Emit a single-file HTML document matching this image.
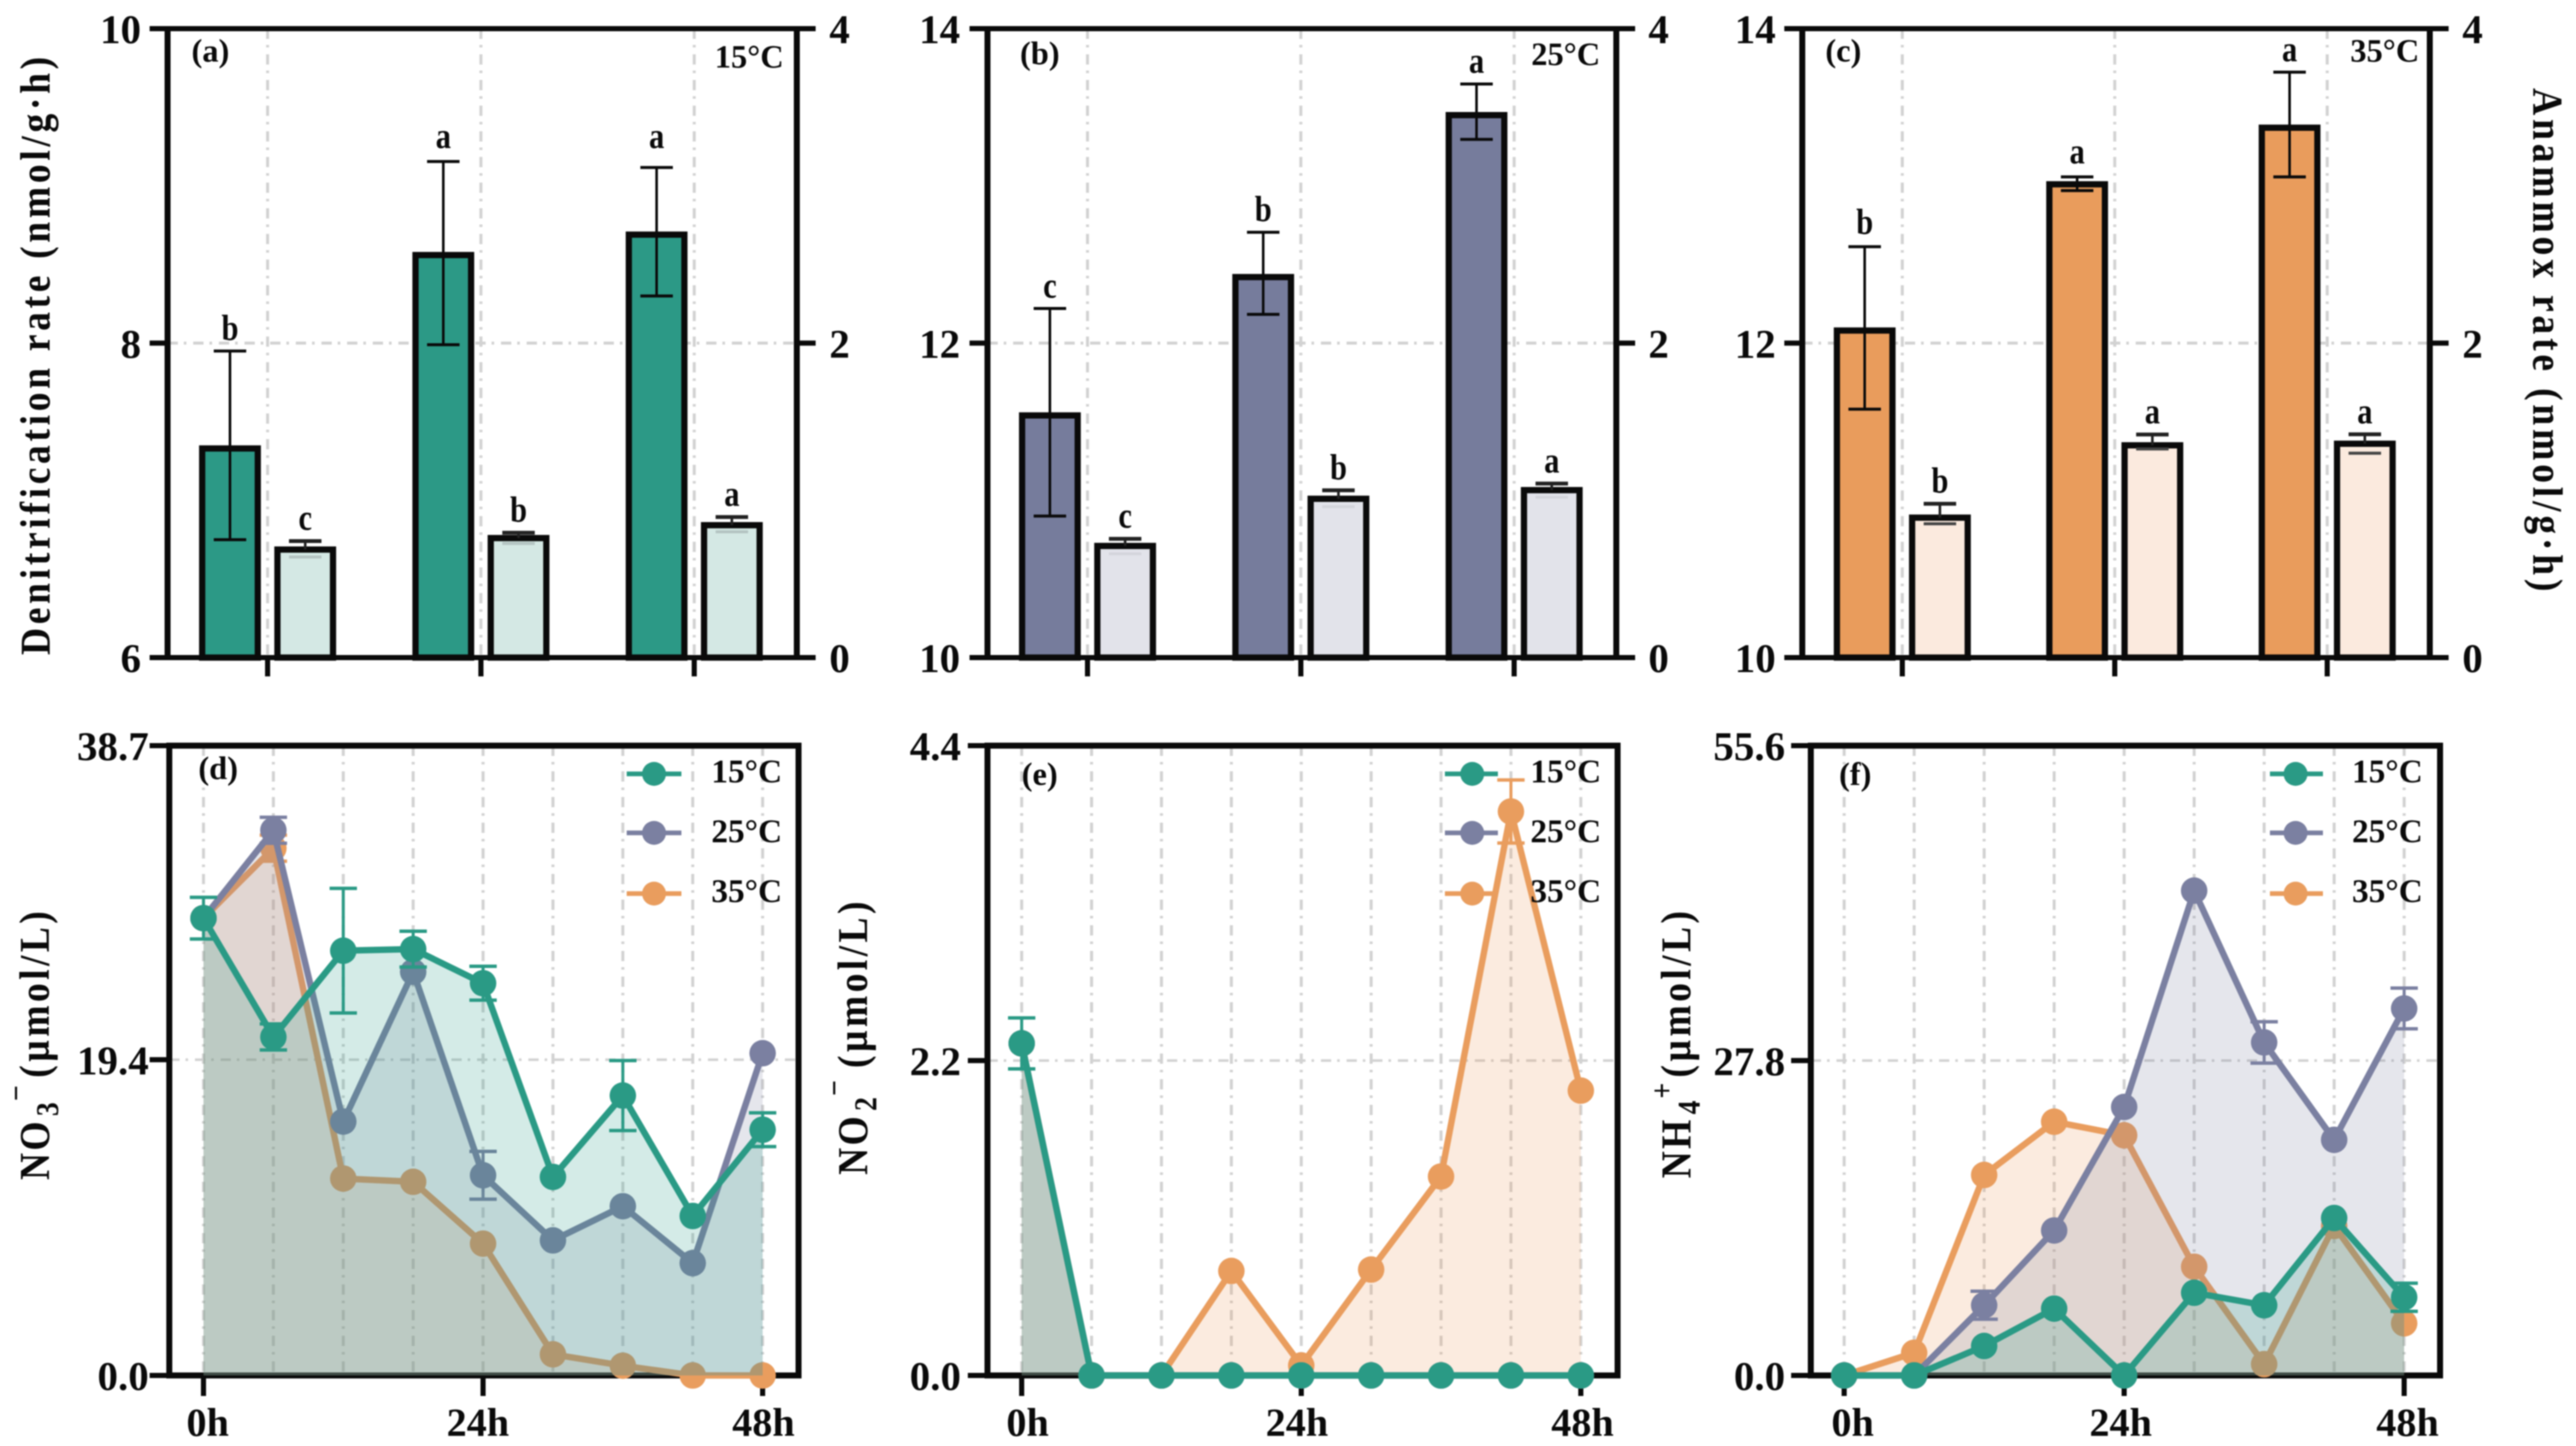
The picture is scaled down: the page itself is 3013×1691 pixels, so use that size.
<!DOCTYPE html>
<html lang="en">
<head>
<meta charset="utf-8">
<title>Denitrification and anammox rates with nitrogen species over time</title>
<style>
html,body{margin:0;padding:0;background:#fff;}
svg{display:block;filter:blur(0.7px);}
text{font-family:"Liberation Serif",serif;font-weight:bold;fill:#0a0a0a;}
</style>
</head>
<body>
<svg id="figure" xmlns="http://www.w3.org/2000/svg" width="3013" height="1691" viewBox="0 0 3013 1691">
<rect x="0" y="0" width="3013" height="1691" fill="#fff"/>
<g id="plots"></g>

<text x="0" y="0" transform="translate(58,766) rotate(-90) scale(.88,1)" font-size="50" textLength="795">Denitrification rate (nmol/g·h)</text>
<text x="0" y="0" transform="translate(2963,103) rotate(90) scale(.88,1)" font-size="50" textLength="669">Anammox rate (nmol/g·h)</text>

<text transform="translate(57,1380) rotate(-90) scale(.88,1)" font-size="50"><tspan x="0" y="0" letter-spacing="3">NO</tspan><tspan x="85" y="11" font-size="37">3</tspan><tspan x="105" y="-26" font-size="37">−</tspan><tspan x="136" y="0" letter-spacing="4.5">(µmol/L)</tspan></text>
<text transform="translate(1014,1374) rotate(-90) scale(.88,1)" font-size="50"><tspan x="0" y="0" letter-spacing="3">NO</tspan><tspan x="85" y="11" font-size="37">2</tspan><tspan x="105" y="-26" font-size="37">−</tspan><tspan x="142" y="0" letter-spacing="4.5">(µmol/L)</tspan></text>
<text transform="translate(1977,1378) rotate(-90) scale(.88,1)" font-size="50"><tspan x="0" y="0" letter-spacing="3">NH</tspan><tspan x="85" y="11" font-size="37">4</tspan><tspan x="106" y="-21" font-size="37">+</tspan><tspan x="134" y="0" letter-spacing="4.5">(µmol/L)</tspan></text>

<text x="224" y="72" font-size="38">(a)</text>
<text x="1193" y="75" font-size="38">(b)</text>
<text x="2135" y="72" font-size="38">(c)</text>
<text x="232" y="911" font-size="38">(d)</text>
<text x="1195" y="918" font-size="38">(e)</text>
<text x="2151" y="918" font-size="38">(f)</text>

<text x="836" y="79" font-size="38">15°C</text>
<text x="1791" y="76" font-size="38">25°C</text>
<text x="2749" y="72" font-size="38">35°C</text>

<g>
  <g><line x1="733" x2="797" y1="905" y2="905" stroke="#2a9a85" stroke-width="5.5"/><circle cx="765" cy="905" r="14" fill="#2a9a85"/><text x="832" y="915" font-size="39">15°C</text></g>
  <g><line x1="733" x2="797" y1="974" y2="974" stroke="#7b80a1" stroke-width="5.5"/><circle cx="765" cy="974" r="14" fill="#7b80a1"/><text x="832" y="985" font-size="39">25°C</text></g>
  <g><line x1="733" x2="797" y1="1045" y2="1045" stroke="#e99d5e" stroke-width="5.5"/><circle cx="765" cy="1045" r="14" fill="#e99d5e"/><text x="832" y="1055" font-size="39">35°C</text></g>
</g>
<g>
  <g><line x1="1690" x2="1752" y1="905" y2="905" stroke="#2a9a85" stroke-width="5.5"/><circle cx="1722" cy="905" r="14" fill="#2a9a85"/><text x="1790" y="915" font-size="39">15°C</text></g>
  <g><line x1="1690" x2="1752" y1="974" y2="974" stroke="#7b80a1" stroke-width="5.5"/><circle cx="1722" cy="974" r="14" fill="#7b80a1"/><text x="1790" y="985" font-size="39">25°C</text></g>
  <g><line x1="1690" x2="1752" y1="1045" y2="1045" stroke="#e99d5e" stroke-width="5.5"/><circle cx="1722" cy="1045" r="14" fill="#e99d5e"/><text x="1790" y="1055" font-size="39">35°C</text></g>
</g>
<g>
  <g><line x1="2655" x2="2717" y1="905" y2="905" stroke="#2a9a85" stroke-width="5.5"/><circle cx="2685" cy="905" r="14" fill="#2a9a85"/><text x="2751" y="915" font-size="39">15°C</text></g>
  <g><line x1="2655" x2="2717" y1="974" y2="974" stroke="#7b80a1" stroke-width="5.5"/><circle cx="2685" cy="974" r="14" fill="#7b80a1"/><text x="2751" y="985" font-size="39">25°C</text></g>
  <g><line x1="2655" x2="2717" y1="1045" y2="1045" stroke="#e99d5e" stroke-width="5.5"/><circle cx="2685" cy="1045" r="14" fill="#e99d5e"/><text x="2751" y="1055" font-size="39">35°C</text></g>
</g>
</svg>

<script>
// ---------- bar chart data ----------
const denitrificationTicksA = [6, 8, 10];
const denitrificationTicksBC = [10, 12, 14];
const anammoxTicks = [0, 2, 4];

const denitrification15 = [7.33, 8.56, 8.69];
const denitrification15High = [7.95, 9.155, 9.117];
const denitrification15Low = [6.75, 7.99, 8.30];
const denitrification15Letters = ['b', 'a', 'a'];
const anammox15 = [0.687, 0.76, 0.842];
const anammox15High = [0.741, 0.794, 0.894];
const anammox15Low = [0.64, 0.726, 0.80];
const anammox15Letters = ['c', 'b', 'a'];

const denitrification25 = [11.54, 12.42, 13.45];
const denitrification25High = [12.22, 12.705, 13.648];
const denitrification25Low = [10.90, 12.183, 13.296];
const denitrification25Letters = ['c', 'b', 'a'];
const anammox25 = [0.71, 1.01, 1.065];
const anammox25High = [0.755, 1.064, 1.107];
const anammox25Low = [0.66, 0.96, 1.02];
const anammox25Letters = ['c', 'b', 'a'];

const denitrification35 = [12.08, 13.01, 13.37];
const denitrification35High = [12.613, 13.057, 13.723];
const denitrification35Low = [11.58, 12.97, 13.057];
const denitrification35Letters = ['b', 'a', 'a'];
const anammox35 = [0.89, 1.35, 1.36];
const anammox35High = [0.978, 1.419, 1.42];
const anammox35Low = [0.851, 1.327, 1.30];
const anammox35Letters = ['b', 'a', 'a'];

// ---------- time series data ----------
const hours = [0, 6, 12, 18, 24, 30, 36, 42, 48];
const hourTickLabels = [0, 24, 48];

const nitrateTicks = [0, 19.4, 38.7];
const nitrate15 = [28.1, 20.8, 26.1, 26.2, 24.1, 12.2, 17.2, 9.8, 15.1];
const nitrate15Err = [1.28, 0.8, 3.83, 1.1, 1.04, 0, 2.15, 0, 1.04];
const nitrate25 = [28.1, 33.5, 15.6, 24.8, 12.3, 8.3, 10.4, 6.9, 19.8];
const nitrate25Err = [0, 0.8, 0, 0, 1.47, 0, 0, 0, 0];
const nitrate35 = [28.1, 32.4, 12.1, 11.9, 8.1, 1.3, 0.6, 0, 0];
const nitrate35Err = [0, 0.8, 0, 0, 0, 0, 0, 0, 0];

const nitriteTicks = [0, 2.2, 4.4];
const nitrite15 = [2.32, 0, 0, 0, 0, 0, 0, 0, 0];
const nitrite15Err = [0.178, 0, 0, 0, 0, 0, 0, 0, 0];
const nitrite25 = [2.32, 0, 0, 0, 0, 0, 0, 0, 0];
const nitrite25Err = [0, 0, 0, 0, 0, 0, 0, 0, 0];
const nitrite35 = [2.32, 0, 0, 0.73, 0.07, 0.74, 1.39, 3.94, 1.99];
const nitrite35Err = [0, 0, 0, 0, 0, 0, 0, 0.22, 0];

const ammoniumTicks = [0, 27.8, 55.6];
const ammonium15 = [0, 0, 2.6, 5.9, 0, 7.3, 6.2, 13.9, 6.9];
const ammonium15Err = [0, 0, 0, 0, 0, 0, 0, 0, 1.24];
const ammonium25 = [0, 0, 6.2, 12.8, 23.7, 42.8, 29.4, 20.8, 32.4];
const ammonium25Err = [0, 0, 1.24, 0, 0, 0, 1.83, 0, 1.8];
const ammonium35 = [0, 2.0, 17.7, 22.4, 21.2, 9.6, 1.0, 13.2, 4.6];
const ammonium35Err = [0, 0, 0, 0, 0, 0, 0, 0, 0];

// ---------- drawing ----------
const NS = 'http://www.w3.org/2000/svg';
const root = document.getElementById('plots');
const INK = '#0a0a0a';
const GRID = '#d2d2d2';
const GRID_DASH = '12 7 3 8';

function make(parent, tag, props) {
  const el = document.createElementNS(NS, tag);
  for (const key in props) el.setAttribute(key, props[key]);
  parent.appendChild(el);
  return el;
}
function scaleY(value, domain, box) {
  return box.bottom - (value - domain[0]) / (domain[domain.length - 1] - domain[0]) * (box.bottom - box.top);
}
function segment(parent, x1, y1, x2, y2, stroke, width, dash) {
  const props = {x1: x1, y1: y1, x2: x2, y2: y2, stroke: stroke, 'stroke-width': width};
  if (dash) props['stroke-dasharray'] = dash;
  return make(parent, 'line', props);
}
function label(parent, x, y, content, size, anchor) {
  const el = make(parent, 'text', {x: x, y: y, 'font-size': size, 'text-anchor': anchor});
  el.textContent = content;
  return el;
}
function sigLetter(parent, x, y, content) {
  const el = make(parent, 'text', {transform: 'translate(' + x + ',' + y + ') scale(.85,1)', 'font-size': 42, 'text-anchor': 'middle'});
  el.textContent = content;
  return el;
}

function drawBarPanel(cfg) {
  const g = make(root, 'g', {});
  
  
  const box = cfg.box;
  const groupX = function (i) { return cfg.tick0 + i * cfg.tickStep; };

  // grid
  cfg.leftTicks.forEach(function (tick, i) {
    if (i !== 1) return;
    const y = scaleY(tick, cfg.leftTicks, box);
    const gl = segment(g, box.left, y, box.right, y, GRID, 3.5, GRID_DASH);
    
    
  });
  cfg.denit.forEach(function (v, i) {
    const gl = segment(g, groupX(i), box.top, groupX(i), box.bottom, GRID, 3.5, GRID_DASH);
    
    
  });

  // bars
  cfg.denit.forEach(function (v, i) {
    const cx = groupX(i) - 44;
    const y = scaleY(v, cfg.leftTicks, box);
    const bar = make(g, 'rect', {x: cx - 32.5, y: y, width: 65, height: box.bottom - y, fill: cfg.dark, stroke: INK, 'stroke-width': 7.3});
    
    
    const top = scaleY(cfg.denitHigh[i], cfg.leftTicks, box);
    const low = scaleY(cfg.denitLow[i], cfg.leftTicks, box);
    const stem = segment(g, cx, top, cx, low, INK, 3);
    
    
    const capTop = segment(g, cx - 19, top, cx + 19, top, INK, 3.5);
    
    
    const capLow = segment(g, cx - 19, low, cx + 19, low, INK, 3.5);
    
    
    const sig = sigLetter(g, cx, top - cfg.letterLift[i], cfg.denitLetters[i]);
    
    
  });
  cfg.anammox.forEach(function (v, i) {
    const cx = groupX(i) + 44;
    const y = scaleY(v, anammoxTicks, box);
    const top = scaleY(cfg.anammoxHigh[i], anammoxTicks, box);
    const low = scaleY(cfg.anammoxLow[i], anammoxTicks, box);
    const bar = make(g, 'rect', {x: cx - 32.5, y: y, width: 65, height: box.bottom - y, fill: cfg.light, stroke: INK, 'stroke-width': 7.3});
    
    
    const stem = segment(g, cx, top, cx, y, '#222', 3);
    
    
    const capTop = segment(g, cx - 19, top, cx + 19, top, '#222', 4.5);
    
    
    const capLow = segment(g, cx - 19, low, cx + 19, low, cfg.lowCap, 3.5);
    
    
    const sig = sigLetter(g, cx, top - 13, cfg.anammoxLetters[i]);
    
    
  });

  // spines
  const spineL = segment(g, box.left, box.top, box.left, box.bottom, INK, 7);
  
  
  const spineR = segment(g, box.right, box.top, box.right, box.bottom, INK, 7);
  
  

  // y ticks and labels
  cfg.leftTicks.forEach(function (tick) {
    const y = scaleY(tick, cfg.leftTicks, box);
    const t = segment(g, box.left - 21, y, box.left, y, INK, 6);
    
    
    const tl = label(g, cfg.leftLabelX, y + 17, String(tick), 48, 'end');
    
    
  });
  anammoxTicks.forEach(function (tick) {
    const y = scaleY(tick, anammoxTicks, box);
    const t = segment(g, box.right, y, box.right + 22, y, INK, 6);
    
    
    const tl = label(g, cfg.rightLabelX, y + 17, String(tick), 48, 'start');
    
    
  });
  const topLine = segment(g, box.left - 21, box.top, box.right + 22, box.top, INK, 6);
  
  
  const baseLine = segment(g, box.left - 21, box.bottom, box.right + 22, box.bottom, INK, 6);
  
  
  cfg.denit.forEach(function (v, i) {
    const t = segment(g, groupX(i), box.bottom, groupX(i), box.bottom + 22, INK, 6);
    
    
  });
}

const COLORS = {t15: '#2a9a85', t25: '#7b80a1', t35: '#e99d5e'};

function drawLinePanel(cfg) {
  const g = make(root, 'g', {});
  
  
  const box = cfg.box;
  const scaleX = function (h) { return cfg.x0 + (h - hours[0]) / (hours[hours.length - 1] - hours[0]) * (cfg.x8 - cfg.x0); };
  const yOf = function (v) { return scaleY(v, cfg.ticks, box); };

  // grid
  const midY = yOf(cfg.ticks[1]);
  const gridH = segment(g, box.left, midY, box.right, midY, GRID, 3, GRID_DASH);
  
  
  hours.forEach(function (h) {
    const gl = segment(g, scaleX(h), box.top, scaleX(h), box.bottom, GRID, 3.5, GRID_DASH);
    
    
  });

  // axes
  const frame = make(g, 'rect', {x: box.left, y: box.top, width: box.right - box.left, height: box.bottom - box.top, fill: 'none', stroke: INK, 'stroke-width': 7});
  
  
  cfg.ticks.forEach(function (tick) {
    const y = yOf(tick);
    const t = segment(g, box.left - 23, y, box.left, y, INK, 6);
    
    
    const tl = label(g, cfg.labelX, y + 17, tick.toFixed(1), 48, 'end');
    
    
  });
  hourTickLabels.forEach(function (h, i) {
    const x = scaleX(h);
    const t = segment(g, x, box.bottom, x, box.bottom + 24, INK, 6);
    
    
    const tl = label(g, x + cfg.labelShift[i], 1679, h + 'h', 47, 'middle');
    
    
  });

  // series, back to front so each translucent fill tints what lies below it
  cfg.series.forEach(function (s) {
    const sg = make(g, 'g', {});
    
    
    let line = '';
    s.values.forEach(function (v, i) {
      line += (i ? ' L' : 'M') + scaleX(hours[i]).toFixed(1) + ' ' + yOf(v).toFixed(1);
    });
    const area = make(sg, 'path', {d: line + ' L' + scaleX(hours[hours.length - 1]) + ' ' + box.bottom + ' L' + scaleX(hours[0]) + ' ' + box.bottom + ' Z', fill: s.color, 'fill-opacity': 0.2});
    
    
    s.errors.forEach(function (e, i) {
      if (!e) return;
      const x = scaleX(hours[i]);
      const top = yOf(s.values[i] + e);
      const low = yOf(s.values[i] - e);
      const stem = segment(sg, x, top, x, low, s.color, 3.5);
      
      
      const capTop = segment(sg, x - 16, top, x + 16, top, s.color, 4);
      
      
      const capLow = segment(sg, x - 16, low, x + 16, low, s.color, 4);
      
      
    });
    const path = make(sg, 'path', {d: line, fill: 'none', stroke: s.color, 'stroke-width': 7.5, 'stroke-linejoin': 'round'});
    
    
    s.values.forEach(function (v, i) {
      const dot = make(sg, 'circle', {cx: scaleX(hours[i]), cy: yOf(v), r: 15.5, fill: s.color});
      
      
    });
  });
}

drawBarPanel({id: 'a', box: {left: 196, right: 932, top: 33.5, bottom: 769}, tick0: 313, tickStep: 249.5,
  leftTicks: denitrificationTicksA, leftLabelX: 165, rightLabelX: 970, letterLift: [13, 16, 23],
  denit: denitrification15, denitHigh: denitrification15High, denitLow: denitrification15Low, denitLetters: denitrification15Letters,
  anammox: anammox15, anammoxHigh: anammox15High, anammoxLow: anammox15Low, anammoxLetters: anammox15Letters,
  dark: '#2c9986', light: '#d4e8e4', lowCap: '#b4c4c2'});
drawBarPanel({id: 'b', box: {left: 1155, right: 1890.5, top: 33.5, bottom: 769}, tick0: 1272, tickStep: 249.5,
  leftTicks: denitrificationTicksBC, leftLabelX: 1123, rightLabelX: 1928, letterLift: [13, 13, 13],
  denit: denitrification25, denitHigh: denitrification25High, denitLow: denitrification25Low, denitLetters: denitrification25Letters,
  anammox: anammox25, anammoxHigh: anammox25High, anammoxLow: anammox25Low, anammoxLetters: anammox25Letters,
  dark: '#767c9c', light: '#e2e3ea', lowCap: '#d4d5dc'});
drawBarPanel({id: 'c', box: {left: 2108, right: 2842, top: 33.5, bottom: 769}, tick0: 2225, tickStep: 248.5,
  leftTicks: denitrificationTicksBC, leftLabelX: 2077, rightLabelX: 2880, letterLift: [15, 16, 13],
  denit: denitrification35, denitHigh: denitrification35High, denitLow: denitrification35Low, denitLetters: denitrification35Letters,
  anammox: anammox35, anammoxHigh: anammox35High, anammoxLow: anammox35Low, anammoxLetters: anammox35Letters,
  dark: '#e99c5c', light: '#fbeade', lowCap: '#444'});

drawLinePanel({id: 'd', box: {left: 198, right: 934, top: 872, bottom: 1608.5}, x0: 238, x8: 892,
  ticks: nitrateTicks, labelX: 174, labelShift: [5, -6, 1],
  series: [
    {name: '35C', color: COLORS.t35, values: nitrate35, errors: nitrate35Err},
    {name: '25C', color: COLORS.t25, values: nitrate25, errors: nitrate25Err},
    {name: '15C', color: COLORS.t15, values: nitrate15, errors: nitrate15Err}
  ]});
drawLinePanel({id: 'e', box: {left: 1155, right: 1892, top: 872, bottom: 1608.5}, x0: 1195, x8: 1849,
  ticks: nitriteTicks, labelX: 1124, labelShift: [7, -5, 2],
  series: [
    {name: '35C', color: COLORS.t35, values: nitrite35, errors: nitrite35Err},
    {name: '25C', color: COLORS.t25, values: nitrite25, errors: nitrite25Err},
    {name: '15C', color: COLORS.t15, values: nitrite15, errors: nitrite15Err}
  ]});
drawLinePanel({id: 'f', box: {left: 2118, right: 2854, top: 872, bottom: 1608.5}, x0: 2157, x8: 2812,
  ticks: ammoniumTicks, labelX: 2088, labelShift: [10, -4, 4],
  series: [
    {name: '35C', color: COLORS.t35, values: ammonium35, errors: ammonium35Err},
    {name: '25C', color: COLORS.t25, values: ammonium25, errors: ammonium25Err},
    {name: '15C', color: COLORS.t15, values: ammonium15, errors: ammonium15Err}
  ]});
</script>
</body>
</html>
